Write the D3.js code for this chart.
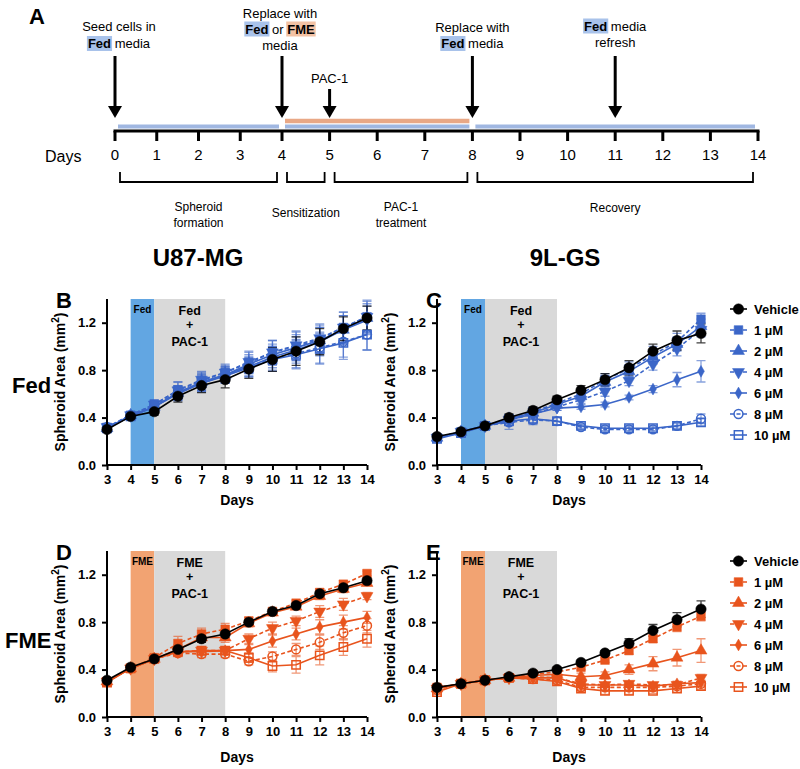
<!DOCTYPE html>
<html>
<head>
<meta charset="utf-8">
<script src="https://cdn.jsdelivr.net/npm/d3@7"></script>
<style>
body{margin:0;background:#fff}
svg{display:block;font-family:"Liberation Sans",Arial,Helvetica,sans-serif}
</style>
</head>
<body>
<svg id="fig" width="800" height="769"></svg>
<script>
/*
spheroid area over time, U87-MG / 9L-GS in Fed or FME media + PAC-1
 */

var days=[3,4,5,6,7,8,9,10,11,12,13,14];
var doseLabels=["Vehicle","1 µM","2 µM","4 µM","6 µM","8 µM","10 µM"];
var yTicks=[0,0.4,0.8,1.2];
var timelineDays=[0,1,2,3,4,5,6,7,8,9,10,11,12,13,14];

// B: U87-MG, Fed
var u87FedMean=[
    [0.30,0.41,0.45,0.58,0.67,0.72,0.81,0.89,0.96,1.04,1.15,1.24],
    [0.31,0.42,0.51,0.63,0.71,0.78,0.86,0.95,1.00,1.06,1.16,1.25],
    [0.31,0.42,0.49,0.61,0.70,0.76,0.85,0.93,0.99,1.05,1.14,1.24],
    [0.32,0.42,0.51,0.63,0.72,0.78,0.87,0.95,1.01,1.07,1.16,1.25],
    [0.31,0.41,0.49,0.61,0.69,0.76,0.83,0.91,0.97,1.04,1.14,1.22],
    [0.32,0.42,0.50,0.61,0.69,0.76,0.83,0.90,0.94,0.99,1.04,1.10],
    [0.31,0.41,0.49,0.60,0.69,0.75,0.82,0.89,0.93,0.98,1.03,1.10]
];
var u87FedErr=[
    [0.02,0.02,0.03,0.05,0.06,0.07,0.08,0.10,0.12,0.11,0.10,0.10],
    [0.03,0.03,0.04,0.07,0.07,0.07,0.09,0.10,0.12,0.12,0.13,0.13],
    [0.03,0.03,0.04,0.06,0.07,0.07,0.08,0.09,0.11,0.11,0.12,0.12],
    [0.03,0.03,0.04,0.07,0.07,0.06,0.09,0.10,0.12,0.12,0.13,0.14],
    [0.03,0.03,0.04,0.06,0.06,0.07,0.08,0.09,0.11,0.12,0.12,0.12],
    [0.03,0.03,0.04,0.06,0.07,0.06,0.08,0.10,0.12,0.13,0.13,0.13],
    [0.03,0.03,0.04,0.06,0.07,0.06,0.08,0.10,0.12,0.13,0.14,0.13]
];
// C: 9L-GS, Fed
var glFedMean=[
    [0.24,0.28,0.33,0.40,0.46,0.55,0.63,0.72,0.82,0.96,1.05,1.11],
    [0.23,0.28,0.33,0.39,0.45,0.52,0.60,0.72,0.81,0.93,1.04,1.23],
    [0.23,0.28,0.33,0.39,0.44,0.51,0.58,0.70,0.79,0.91,1.02,1.17],
    [0.23,0.28,0.33,0.38,0.43,0.49,0.55,0.62,0.71,0.85,0.98,1.14],
    [0.23,0.28,0.33,0.38,0.43,0.48,0.49,0.51,0.57,0.64,0.72,0.79],
    [0.23,0.27,0.33,0.36,0.38,0.37,0.32,0.30,0.30,0.30,0.33,0.39],
    [0.22,0.27,0.33,0.37,0.39,0.37,0.33,0.31,0.31,0.31,0.33,0.36]
];
var glFedErr=[
    [0.02,0.02,0.02,0.03,0.03,0.03,0.04,0.05,0.06,0.06,0.08,0.08],
    [0.02,0.02,0.02,0.03,0.03,0.03,0.04,0.05,0.06,0.07,0.07,0.05],
    [0.02,0.02,0.02,0.03,0.03,0.03,0.04,0.04,0.05,0.06,0.06,0.06],
    [0.02,0.02,0.02,0.03,0.03,0.03,0.03,0.04,0.04,0.05,0.06,0.06],
    [0.02,0.02,0.02,0.03,0.03,0.02,0.02,0.02,0.02,0.03,0.06,0.09],
    [0.02,0.02,0.02,0.06,0.04,0.03,0.02,0.02,0.02,0.02,0.03,0.04],
    [0.02,0.02,0.02,0.04,0.04,0.03,0.02,0.02,0.02,0.02,0.02,0.03]
];
// D: U87-MG, FME
var u87FmeMean=[
    [0.31,0.42,0.49,0.57,0.66,0.70,0.80,0.89,0.94,1.04,1.09,1.15],
    [0.30,0.41,0.50,0.62,0.70,0.74,0.81,0.89,0.96,1.05,1.12,1.21],
    [0.30,0.41,0.49,0.57,0.67,0.67,0.79,0.88,0.93,1.02,1.08,1.13],
    [0.30,0.41,0.49,0.55,0.56,0.56,0.66,0.75,0.81,0.89,0.95,1.02],
    [0.30,0.41,0.49,0.55,0.55,0.56,0.57,0.64,0.70,0.76,0.80,0.84],
    [0.30,0.41,0.49,0.54,0.53,0.53,0.47,0.51,0.57,0.63,0.71,0.77],
    [0.29,0.41,0.49,0.55,0.56,0.56,0.50,0.43,0.44,0.52,0.59,0.66]
];
var u87FmeErr=[
    [0.02,0.02,0.02,0.03,0.03,0.03,0.02,0.02,0.02,0.03,0.03,0.02],
    [0.03,0.02,0.03,0.06,0.05,0.05,0.03,0.02,0.02,0.03,0.03,0.02],
    [0.03,0.02,0.03,0.04,0.04,0.04,0.03,0.02,0.02,0.03,0.03,0.02],
    [0.03,0.02,0.03,0.03,0.03,0.03,0.04,0.05,0.04,0.05,0.05,0.03],
    [0.03,0.02,0.03,0.03,0.03,0.03,0.04,0.05,0.05,0.06,0.06,0.05],
    [0.03,0.02,0.03,0.03,0.03,0.03,0.03,0.04,0.05,0.06,0.06,0.06],
    [0.03,0.02,0.03,0.03,0.03,0.03,0.04,0.05,0.07,0.08,0.07,0.07]
];
// E: 9L-GS, FME
var glFmeMean=[
    [0.25,0.28,0.31,0.34,0.37,0.40,0.46,0.54,0.62,0.73,0.82,0.91],
    [0.25,0.28,0.31,0.33,0.36,0.38,0.42,0.48,0.56,0.66,0.76,0.85],
    [0.24,0.28,0.31,0.33,0.35,0.36,0.34,0.35,0.40,0.45,0.50,0.56],
    [0.24,0.28,0.31,0.33,0.34,0.33,0.28,0.27,0.28,0.27,0.27,0.33],
    [0.24,0.28,0.31,0.33,0.33,0.33,0.27,0.27,0.27,0.26,0.28,0.29],
    [0.23,0.28,0.31,0.33,0.32,0.31,0.25,0.25,0.25,0.25,0.26,0.28],
    [0.21,0.28,0.31,0.33,0.32,0.30,0.24,0.22,0.22,0.22,0.24,0.26]
];
var glFmeErr=[
    [0.02,0.01,0.01,0.01,0.02,0.02,0.02,0.02,0.04,0.05,0.06,0.07],
    [0.02,0.01,0.01,0.01,0.02,0.02,0.02,0.02,0.03,0.03,0.04,0.04],
    [0.02,0.01,0.01,0.01,0.02,0.02,0.03,0.03,0.04,0.06,0.07,0.10],
    [0.02,0.01,0.01,0.01,0.02,0.02,0.02,0.02,0.02,0.02,0.03,0.03],
    [0.02,0.01,0.01,0.01,0.02,0.02,0.02,0.02,0.02,0.02,0.02,0.02],
    [0.02,0.01,0.01,0.01,0.02,0.02,0.02,0.02,0.02,0.02,0.02,0.02],
    [0.02,0.01,0.01,0.01,0.02,0.02,0.02,0.03,0.03,0.02,0.03,0.03]
];

var colors={
    fed:"#3b66c8", fme:"#e8541d",
    fedBand:"#62a6e2", fmeBand:"#f2a372", gray:"#d9d9d9",
    fedHl:"#a8c2ea", fmeHl:"#f3c2a4",
    tlBlue:"#a0b7e1", tlOrange:"#e9a886"
};

var svg=d3.select("#fig");

/* ---------- panel A: timeline ---------- */
var tx=d3.scaleLinear().domain([0,4,14]).range([115,282,758]);
var tlY=131;

function richLine(g,cx,baseline,parts) {
    var grp=g.append("g");
    var nodes=parts.map(function (p) {
        return grp.append("text")
            .attr("y",baseline)
            .attr("font-size",13)
            .attr("font-weight",p[1]?"bold":"normal")
            .style("white-space","pre")
            .text(p[0]);
    });
    var widths=nodes.map(function (n) {return n.node().getComputedTextLength()});
    var x=cx-d3.sum(widths)/2;
    nodes.forEach(function (n,i) {
        if(parts[i][1]){
            grp.insert("rect","text")
                .attr("x",x-1).attr("y",baseline-12)
                .attr("width",widths[i]+2).attr("height",15)
                .attr("fill",colors[parts[i][1]+"Hl"]);
        }
        n.attr("x",x);
        x+=widths[i];
    });
}

function arrow(g,x,top,tip) {
    g.append("line").attr("x1",x).attr("x2",x).attr("y1",top).attr("y2",tip-10)
        .attr("stroke","#000").attr("stroke-width",3);
    g.append("path").attr("d","M"+(x-7)+","+(tip-12)+"L"+(x+7)+","+(tip-12)+"L"+x+","+tip+"Z")
        .attr("fill","#000");
}

function buildTimeline() {
    var g=svg.append("g").attr("id","panelA");

    g.append("text").attr("x",29).attr("y",24).attr("font-size",22).attr("font-weight","bold").text("A");

    // media bars
    [[0,4],[4,8],[8,14]].forEach(function (s) {
        g.append("line").attr("x1",tx(s[0])+3).attr("x2",tx(s[1])-3)
            .attr("y1",tlY-4.5).attr("y2",tlY-4.5)
            .attr("stroke",colors.tlBlue).attr("stroke-width",4);
    });
    g.append("line").attr("x1",tx(4)+3).attr("x2",tx(8)-3)
        .attr("y1",tlY-10).attr("y2",tlY-10)
        .attr("stroke",colors.tlOrange).attr("stroke-width",4.5);

    // day axis
    g.append("line").attr("x1",tx(0)-1.5).attr("x2",tx(14)+1.5).attr("y1",tlY).attr("y2",tlY)
        .attr("stroke","#000").attr("stroke-width",3);
    g.selectAll(".tlTick").data(timelineDays).enter().append("line")
        .attr("x1",function (d) {return tx(d)}).attr("x2",function (d) {return tx(d)})
        .attr("y1",tlY).attr("y2",tlY+10)
        .attr("stroke","#000").attr("stroke-width",3);
    g.selectAll(".tlLab").data(timelineDays).enter().append("text")
        .attr("x",function (d) {return tx(d)}).attr("y",tlY+29)
        .attr("text-anchor","middle").attr("font-size",15)
        .text(function (d) {return d});
    g.append("text").attr("x",45).attr("y",tlY+31).attr("font-size",16).text("Days");

    // arrows + notes
    arrow(g,tx(0),56,118);
    arrow(g,tx(4),56,118);
    arrow(g,tx(5),89,118);
    arrow(g,tx(8),56,118);
    arrow(g,tx(11),56,118);

    richLine(g,tx(0)+4,31,[["Seed cells in",null]]);
    richLine(g,tx(0)+4,48,[["Fed","fed"],[" media",null]]);
    richLine(g,tx(4)-2,17.5,[["Replace with",null]]);
    richLine(g,tx(4)-2,33.5,[["Fed","fed"],[" or ",null],["FME","fme"]]);
    richLine(g,tx(4)-2,50,[["media",null]]);
    richLine(g,tx(5),82.5,[["PAC-1",null]]);
    richLine(g,tx(8),31.5,[["Replace with",null]]);
    richLine(g,tx(8),48,[["Fed","fed"],[" media",null]]);
    richLine(g,tx(11),30.5,[["Fed","fed"],[" media",null]]);
    richLine(g,tx(11),46.5,[["refresh",null]]);

    // phase brackets
    var phases=[
        {s:0,e:4,lines:["Spheroid","formation"]},
        {s:4,e:5,lines:["Sensitization"]},
        {s:5,e:8,lines:["PAC-1","treatment"]},
        {s:8,e:14,lines:["Recovery"]}
    ];
    phases.forEach(function (p) {
        var x1=tx(p.s)+5, x2=tx(p.e)-5;
        g.append("path").attr("d","M"+x1+",172V182H"+x2+"V172")
            .attr("fill","none").attr("stroke","#000").attr("stroke-width",1.8);
        var cx=(tx(p.s)+tx(p.e))/2;
        var y0=p.lines.length==2?211:212;
        if(p.s==4) y0=217;
        p.lines.forEach(function (l,i) {
            g.append("text").attr("x",cx).attr("y",y0+i*15.5)
                .attr("text-anchor","middle").attr("font-size",12).text(l);
        });
    });
}

/* ---------- panels B-E ---------- */
var seriesStyle=[
    {sym:d3.symbolCircle,size:85,fill:true,dash:null,rot:0},
    {sym:d3.symbolSquare,size:75,fill:true,dash:"4,2.5",rot:0},
    {sym:d3.symbolTriangle,size:62,fill:true,dash:null,rot:0},
    {sym:d3.symbolTriangle,size:62,fill:true,dash:"4,2.5",rot:180},
    {sym:d3.symbolDiamond,size:40,fill:true,dash:null,rot:0},
    {sym:d3.symbolCircle,size:62,fill:false,dash:"4,2.5",rot:0},
    {sym:d3.symbolSquare,size:70,fill:false,dash:null,rot:0}
];

function drawMarker(g,x,y,i,col) {
    var st=seriesStyle[i];
    g.append("path")
        .attr("d",d3.symbol().type(st.sym).size(st.size)())
        .attr("transform","translate("+x+","+y+")"+(st.rot?" rotate("+st.rot+")":""))
        .attr("fill",st.fill?col:"#fff")
        .attr("fill-opacity",st.fill?1:0)
        .attr("stroke",col)
        .attr("stroke-width",st.fill?0.5:1.5);
}

function buildPanel(cfg) {
    var g=svg.append("g").attr("id","panel"+cfg.id);
    var x=d3.scaleLinear().domain([3,14]).range([cfg.left,cfg.right]);
    var y=d3.scaleLinear().domain([0,1.4]).range([cfg.bottom,cfg.bottom-166]);
    var media=cfg.media, mCol=colors[media.toLowerCase()];

    // treatment bands
    g.append("rect").attr("x",x(4)).attr("y",y(1.4)).attr("width",x(5)-x(4)).attr("height",y(0)-y(1.4))
        .attr("fill",colors[media.toLowerCase()+"Band"]);
    g.append("rect").attr("x",x(5)).attr("y",y(1.4)).attr("width",x(8)-x(5)).attr("height",y(0)-y(1.4))
        .attr("fill",colors.gray);
    g.append("text").attr("x",(x(4)+x(5))/2).attr("y",y(1.4)+13.5)
        .attr("text-anchor","middle").attr("font-size",10).attr("font-weight","bold").text(media);
    [media,"+","PAC-1"].forEach(function (t,i) {
        g.append("text").attr("x",x(6.5)).attr("y",y(1.4)+[15.5,29.5,47][i])
            .attr("text-anchor","middle").attr("font-size",12.5).attr("font-weight","bold").text(t);
    });

    var line=d3.line().x(function (d,i) {return x(days[i])}).y(function (d) {return y(d)});

    // draw vehicle last
    var order=[6,5,4,3,2,1,0];
    order.forEach(function (s) {
        var col=s==0?"#000":mCol;
        var eg=g.append("g").attr("opacity",s==0?0.75:0.6);
        cfg.means[s].forEach(function (m,i) {
            var e=cfg.errs[s][i], cx=x(days[i]);
            eg.append("path")
                .attr("d","M"+cx+","+y(m-e)+"V"+y(m+e)+"M"+(cx-4.5)+","+y(m+e)+"H"+(cx+4.5)+"M"+(cx-4.5)+","+y(m-e)+"H"+(cx+4.5))
                .attr("fill","none").attr("stroke",col).attr("stroke-width",1.3);
        });
    });
    order.forEach(function (s) {
        var col=s==0?"#000":mCol;
        g.append("path").datum(cfg.means[s])
            .attr("d",line)
            .attr("fill","none").attr("stroke",col).attr("stroke-width",1.6)
            .attr("stroke-dasharray",seriesStyle[s].dash);
        cfg.means[s].forEach(function (m,i) {
            drawMarker(g,x(days[i]),y(m),s,col);
        });
    });

    // axes
    var yAxis=g.append("g").attr("transform","translate("+cfg.left+",0)")
        .call(d3.axisLeft(y).tickValues(yTicks).tickFormat(d3.format(".1f")).tickSize(5).tickSizeOuter(0).tickPadding(6));
    var xAxis=g.append("g").attr("transform","translate(0,"+cfg.bottom+")")
        .call(d3.axisBottom(x).tickValues(days).tickFormat(d3.format("d")).tickSize(5).tickSizeOuter(0).tickPadding(5));
    [yAxis,xAxis].forEach(function (a) {
        a.select(".domain").attr("stroke-width",2);
        a.selectAll(".tick line").attr("stroke-width",2);
        a.selectAll("text").attr("font-size",13).attr("font-weight","bold")
            .attr("font-family","Liberation Sans, Arial, sans-serif").attr("fill","#000");
    });
    // extend y domain to the top (1.4)
    yAxis.select(".domain").attr("d","M0,"+y(0)+"V"+y(1.4));
    xAxis.select(".domain").attr("d","M"+(cfg.left-1)+",0H"+cfg.right);

    var yl=g.append("text")
        .attr("transform","translate("+(cfg.left-42)+","+((y(0)+y(1.4))/2)+") rotate(-90)")
        .attr("text-anchor","middle").attr("font-size",14).attr("font-weight","bold");
    yl.append("tspan").text("Spheroid Area (mm");
    yl.append("tspan").attr("font-size",10).attr("dy",-6).text("2");
    yl.append("tspan").attr("dy",6).text(")");

    g.append("text").attr("x",(cfg.left+cfg.right)/2).attr("y",cfg.bottom+cfg.daysOff)
        .attr("text-anchor","middle").attr("font-size",14).attr("font-weight","bold").text("Days");

    g.append("text").attr("x",cfg.letterX).attr("y",cfg.bottom-157)
        .attr("font-size",22).attr("font-weight","bold").text(cfg.id);

    if(cfg.legend){
        var lg=g.append("g");
        doseLabels.forEach(function (lab,i) {
            var col=i==0?"#000":mCol, ly=cfg.bottom-156+i*21;
            lg.append("line").attr("x1",730).attr("x2",747).attr("y1",ly).attr("y2",ly)
                .attr("stroke",col).attr("stroke-width",1.6).attr("stroke-dasharray",seriesStyle[i].dash);
            drawMarker(lg,738.5,ly,i,col);
            lg.append("text").attr("x",754).attr("y",ly+4.5)
                .attr("font-size",13).attr("font-weight","bold").text(lab);
        });
    }
}

function makeFigure() {
    buildTimeline();

    svg.append("text").attr("x",198).attr("y",266).attr("text-anchor","middle")
        .attr("font-size",24).attr("font-weight","bold").text("U87-MG");
    svg.append("text").attr("x",565).attr("y",266).attr("text-anchor","middle")
        .attr("font-size",24).attr("font-weight","bold").text("9L-GS");
    svg.append("text").attr("x",12).attr("y",393).attr("font-size",22).attr("font-weight","bold").text("Fed");
    svg.append("text").attr("x",5).attr("y",648).attr("font-size",22).attr("font-weight","bold").text("FME");

    buildPanel({id:"B",left:107,right:367,bottom:465,means:u87FedMean,errs:u87FedErr,media:"Fed",letterX:56,daysOff:40});
    buildPanel({id:"C",left:437,right:701,bottom:465,means:glFedMean,errs:glFedErr,media:"Fed",letterX:426,legend:true,daysOff:40});
    buildPanel({id:"D",left:107,right:367,bottom:717,means:u87FmeMean,errs:u87FmeErr,media:"FME",letterX:56,daysOff:45});
    buildPanel({id:"E",left:437,right:701,bottom:717,means:glFmeMean,errs:glFmeErr,media:"FME",letterX:426,legend:true,daysOff:45});
}

makeFigure();
</script>
</body>
</html>
